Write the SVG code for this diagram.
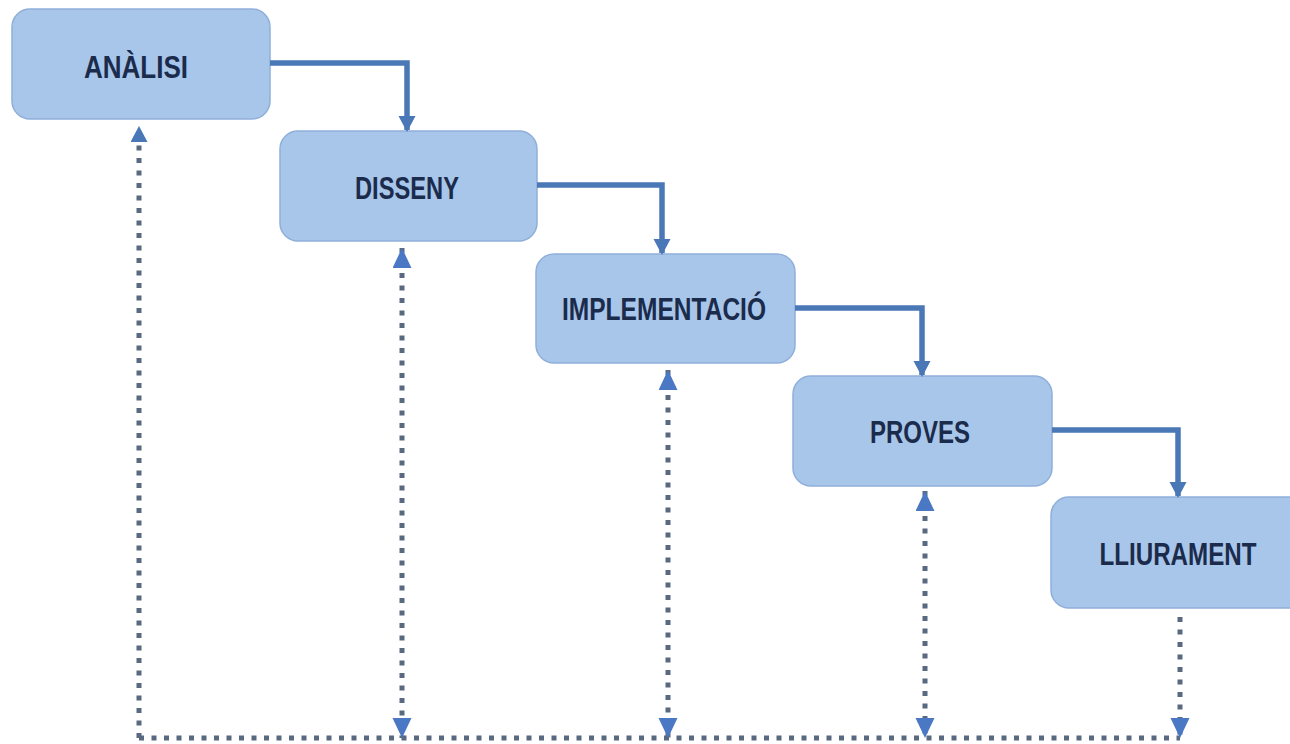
<svg xmlns="http://www.w3.org/2000/svg" width="1290" height="744" viewBox="0 0 1290 744">
<style>
.box{fill:#a8c6ea;stroke:#8fafda;stroke-width:1.5}
.lbl{font-family:"Liberation Sans",Arial,sans-serif;font-weight:bold;font-size:31px;fill:#1b2b4c;text-anchor:middle}
.flow{fill:none;stroke:#4a78b6;stroke-width:5.5}
.dot{fill:none;stroke:#59697f;stroke-width:5;stroke-dasharray:5 7.5}
</style>
<defs>
<marker id="ah" markerUnits="userSpaceOnUse" markerWidth="18" markerHeight="18" refX="14" refY="8.5" orient="auto">
<path d="M0,0 L16,8.5 L0,17 z" fill="#4a78b6"/>
</marker>
<marker id="ad" markerUnits="userSpaceOnUse" markerWidth="22" markerHeight="20" refX="20" refY="9.5" orient="auto-start-reverse">
<path d="M0,0 L20,9.5 L0,19 z" fill="#4a78c4"/>
</marker>
</defs>
<rect width="1290" height="744" fill="#ffffff"/>
<g id="node-analisi"><rect class="box" x="12" y="9" width="258" height="110" rx="18"/><text class="lbl" x="136" y="78" textLength="104" lengthAdjust="spacingAndGlyphs">ANÀLISI</text></g>
<g id="node-disseny"><rect class="box" x="280" y="131" width="257" height="110" rx="18"/><text class="lbl" x="407" y="199" textLength="104" lengthAdjust="spacingAndGlyphs">DISSENY</text></g>
<g id="node-implementacio"><rect class="box" x="536" y="254" width="259" height="109" rx="18"/><text class="lbl" x="664" y="320" textLength="204" lengthAdjust="spacingAndGlyphs">IMPLEMENTACIÓ</text></g>
<g id="node-proves"><rect class="box" x="793" y="376" width="259" height="110" rx="18"/><text class="lbl" x="920" y="443" textLength="100" lengthAdjust="spacingAndGlyphs">PROVES</text></g>
<g id="node-lliurament"><rect class="box" x="1051" y="497" width="255" height="111" rx="18"/><text class="lbl" x="1178" y="565" textLength="157" lengthAdjust="spacingAndGlyphs">LLIURAMENT</text></g>
<g id="connectors">
<path class="flow" d="M270,63 H407 V130" marker-end="url(#ah)"/>
<path class="flow" d="M537,185 H662 V253" marker-end="url(#ah)"/>
<path class="flow" d="M795,308 H922 V375" marker-end="url(#ah)"/>
<path class="flow" d="M1052,430 H1178 V496" marker-end="url(#ah)"/>
<path class="dot" d="M139,738 H1180"/>
<path class="dot" d="M139,738 V128" marker-end="url(#ah)"/>
<path class="dot" d="M402,248 V738" marker-start="url(#ad)" marker-end="url(#ad)"/>
<path class="dot" d="M668,370 V738" marker-start="url(#ad)" marker-end="url(#ad)"/>
<path class="dot" d="M925,491 V738" marker-start="url(#ad)" marker-end="url(#ad)"/>
<path class="dot" d="M1180,617 V738" marker-end="url(#ad)"/>
</g>
</svg>
